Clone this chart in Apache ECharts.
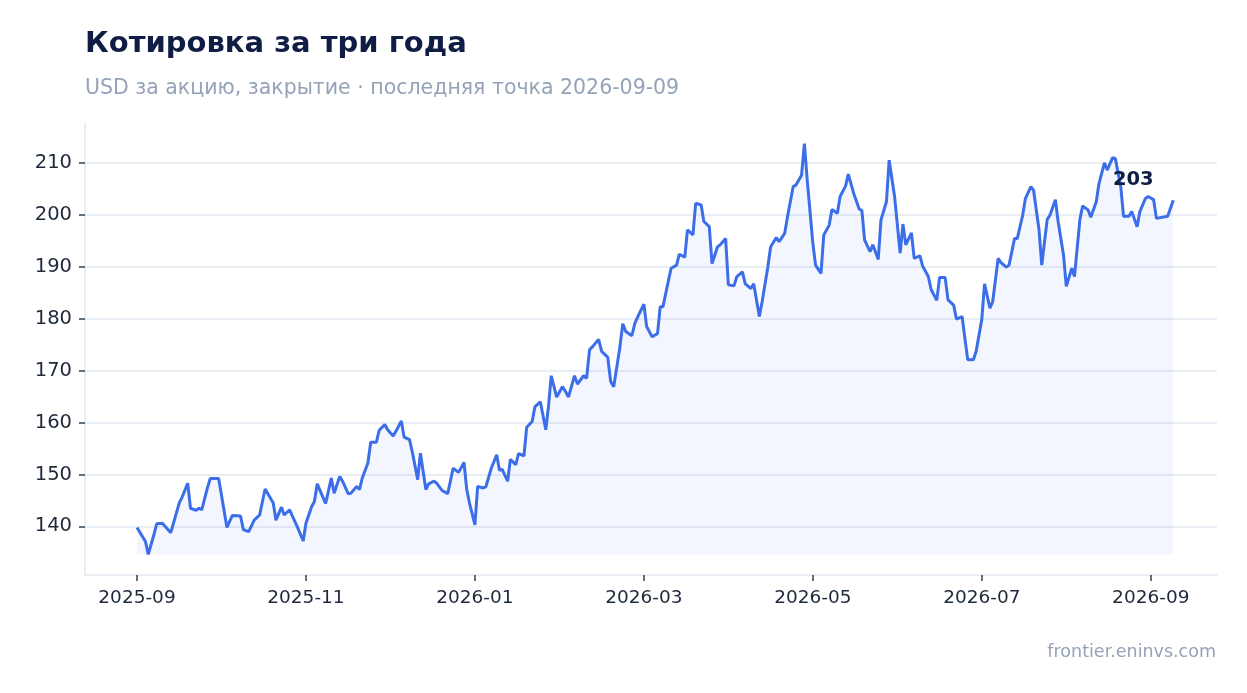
<!DOCTYPE html>
<html>
<head>
<meta charset="utf-8">
<script src="https://cdn.jsdelivr.net/npm/echarts@6/dist/echarts.min.js"></script>
<style>
  html, body { margin: 0; padding: 0; background: #ffffff; }
  #chart { width: 1247px; height: 693px; }
</style>
</head>
<body>
<div id="chart"></div>
<script>
// даты и цены закрытия (USD)
var dates = [
  '2025-09-01','2025-09-04','2025-09-05','2025-09-07','2025-09-08','2025-09-10','2025-09-13','2025-09-16','2025-09-17','2025-09-19',
  '2025-09-20','2025-09-22','2025-09-23','2025-09-24','2025-09-26','2025-09-27','2025-09-30',
  '2025-10-03','2025-10-05','2025-10-08','2025-10-09','2025-10-11','2025-10-13','2025-10-15','2025-10-17','2025-10-20',
  '2025-10-21','2025-10-23','2025-10-24','2025-10-26','2025-10-29','2025-10-31',
  '2025-11-01','2025-11-03','2025-11-04','2025-11-05','2025-11-08','2025-11-10','2025-11-11','2025-11-13','2025-11-14',
  '2025-11-16','2025-11-17','2025-11-19','2025-11-20','2025-11-21','2025-11-23','2025-11-24','2025-11-26','2025-11-27',
  '2025-11-29','2025-11-30',
  '2025-12-02','2025-12-03','2025-12-05','2025-12-06','2025-12-08','2025-12-09','2025-12-11','2025-12-12','2025-12-14',
  '2025-12-15','2025-12-17','2025-12-18','2025-12-20','2025-12-22','2025-12-23','2025-12-24','2025-12-26','2025-12-28',
  '2025-12-29','2025-12-30',
  '2026-01-01','2026-01-02','2026-01-04','2026-01-05','2026-01-07','2026-01-09','2026-01-10','2026-01-11','2026-01-13',
  '2026-01-14','2026-01-16','2026-01-17','2026-01-19','2026-01-20','2026-01-22','2026-01-23','2026-01-25','2026-01-27',
  '2026-01-28','2026-01-29','2026-01-31',
  '2026-02-02','2026-02-03','2026-02-04','2026-02-06','2026-02-07','2026-02-09','2026-02-10','2026-02-11','2026-02-12',
  '2026-02-14','2026-02-15','2026-02-17','2026-02-18','2026-02-19','2026-02-21','2026-02-22','2026-02-23','2026-02-25',
  '2026-02-26','2026-02-27',
  '2026-03-01','2026-03-02','2026-03-04','2026-03-06','2026-03-07','2026-03-08','2026-03-10','2026-03-11','2026-03-13',
  '2026-03-14','2026-03-16','2026-03-17','2026-03-19','2026-03-20','2026-03-22','2026-03-23','2026-03-25','2026-03-26',
  '2026-03-28','2026-03-29','2026-03-31',
  '2026-04-01','2026-04-03','2026-04-04','2026-04-06','2026-04-07','2026-04-09','2026-04-10','2026-04-12','2026-04-13',
  '2026-04-15','2026-04-16','2026-04-18','2026-04-19','2026-04-21','2026-04-22','2026-04-24','2026-04-25','2026-04-27',
  '2026-04-28','2026-04-29',
  '2026-05-01','2026-05-02','2026-05-04','2026-05-05','2026-05-07','2026-05-08','2026-05-10','2026-05-11','2026-05-13',
  '2026-05-14','2026-05-16','2026-05-18','2026-05-19','2026-05-20','2026-05-22','2026-05-23','2026-05-25','2026-05-26',
  '2026-05-28','2026-05-29','2026-05-31',
  '2026-06-02','2026-06-03','2026-06-04','2026-06-06','2026-06-07','2026-06-09','2026-06-10','2026-06-12','2026-06-13',
  '2026-06-15','2026-06-16','2026-06-18','2026-06-19','2026-06-21','2026-06-22','2026-06-24','2026-06-25','2026-06-26',
  '2026-06-28','2026-06-29',
  '2026-07-01','2026-07-02','2026-07-04','2026-07-05','2026-07-07','2026-07-08','2026-07-10','2026-07-11','2026-07-13',
  '2026-07-14','2026-07-16','2026-07-17','2026-07-19','2026-07-20','2026-07-22','2026-07-23','2026-07-25','2026-07-26',
  '2026-07-28','2026-07-29','2026-07-31',
  '2026-08-01','2026-08-03','2026-08-04','2026-08-06','2026-08-07','2026-08-09','2026-08-10','2026-08-12','2026-08-13',
  '2026-08-15','2026-08-16','2026-08-18','2026-08-19','2026-08-21','2026-08-22','2026-08-24','2026-08-25','2026-08-27',
  '2026-08-28','2026-08-30','2026-08-31',
  '2026-09-02','2026-09-03','2026-09-07','2026-09-09'
];

var closes = [
  139.8,137.1,134.6,138.4,140.5,140.6,138.8,144.5,145.6,148.3,
  143.5,143.1,143.5,143.2,147.4,149.2,149.2,
  139.8,142.1,142.0,139.4,139.0,141.2,142.2,147.2,144.5,
  141.2,143.7,142.2,143.2,139.7,137.2,
  140.6,143.8,144.8,148.2,144.4,149.3,146.4,149.6,148.7,
  146.3,146.4,147.7,147.1,149.3,152.2,156.2,156.2,158.5,
  159.6,158.6,
  157.4,158.3,160.3,157.2,156.7,154.4,149.0,154.1,147.1,
  148.2,148.7,148.3,146.9,146.3,148.7,151.2,150.4,152.3,
  147.1,144.5,
  140.3,147.7,147.4,147.6,151.2,153.8,150.8,151.0,148.7,
  152.9,151.9,154.0,153.6,159.1,160.2,163.0,164.0,158.6,
  163.1,169.0,164.9,
  166.9,166.0,164.9,169.0,167.4,169.0,168.5,174.0,174.6,
  176.0,173.7,172.6,167.9,166.9,174.3,179.0,177.5,176.7,
  179.1,180.4,
  182.8,178.5,176.5,177.1,182.3,182.3,187.3,189.7,190.3,
  192.4,191.8,197.1,196.1,202.2,201.9,198.7,197.7,190.6,
  193.8,194.2,195.4,
  186.5,186.3,188.1,189.0,186.7,185.8,186.7,180.4,183.3,
  189.9,193.8,195.6,194.8,196.4,199.6,205.4,205.7,207.6,
  213.7,206.7,
  194.5,190.3,188.7,196.1,198.0,201.0,200.3,203.5,205.5,
  207.8,204.1,201.1,200.8,195.1,192.9,194.2,191.4,199.0,
  202.5,210.5,203.5,
  192.6,198.2,194.2,196.5,191.6,192.1,190.1,188.1,185.6,
  183.5,187.9,187.9,183.6,182.6,179.9,180.4,176.2,172.1,
  172.1,173.7,
  179.9,186.7,182.0,183.3,191.6,190.8,189.9,190.3,195.4,
  195.4,199.9,203.1,205.4,204.7,197.1,190.3,199.1,199.9,
  202.9,198.7,192.2,
  186.2,189.7,188.1,199.1,201.7,200.9,199.5,202.5,206.0,
  210.0,208.6,211.0,210.8,205.4,199.7,199.7,200.6,197.7,
  200.6,203.1,203.5,
  202.9,199.3,199.7,202.8
];

// подписи оси X (каждые два месяца) и оси Y
var xTickLabels = ['2025-09', '2025-11', '2026-01', '2026-03', '2026-05', '2026-07', '2026-09'];
var yTicks = [140, 150, 160, 170, 180, 190, 200, 210];

// позиция даты в "месяцах" от 2025-09
function monthPos(s) {
  var p = s.split('-');
  var y = +p[0], m = +p[1], d = +p[2];
  var dim = new Date(y, m, 0).getDate();
  return (y - 2025) * 12 + (m - 9) + (d - 1) / dim;
}
function labelMonth(v) {
  var idx = Math.round(v);
  var y = 2025 + Math.floor((idx + 8) / 12);
  var m = (idx + 8) % 12 + 1;
  return y + '-' + (m < 10 ? '0' + m : m);
}

var points = [];
for (var i = 0; i < dates.length; i++) {
  points.push([monthPos(dates[i]), closes[i]]);
}
var last = points.length - 1;
var lo = Math.min.apply(null, closes), hi = Math.max.apply(null, closes);
var yPad = (hi - lo) * 0.05;
var xTickVals = xTickLabels.map(function (t) { return monthPos(t + '-01'); });

var myChart = echarts.init(document.getElementById('chart'));
myChart.setOption({
  animation: false,
  backgroundColor: '#ffffff',
  title: [
    {
      text: 'Котировка за три года',
      left: 80, top: 25,
      textStyle: { fontFamily: 'DejaVu Sans', fontWeight: 'bold', fontSize: 29, color: '#0f1d45' }
    },
    {
      text: 'USD за акцию, закрытие · последняя точка 2026-09-09',
      left: 80, top: 73,
      textStyle: { fontFamily: 'DejaVu Sans', fontWeight: 'normal', fontSize: 20.5, color: '#94a3b8' }
    },
    {
      text: 'frontier.eninvs.com',
      right: 26, top: 638,
      textStyle: { fontFamily: 'DejaVu Sans', fontWeight: 'normal', fontSize: 17.5, color: '#94a3b8' }
    }
  ],
  grid: { left: 85, right: 30, top: 123, bottom: 118 },
  xAxis: {
    type: 'value',
    min: -0.6155,
    max: 12.784,
    splitLine: { show: false },
    axisLine: { show: true, onZero: false, lineStyle: { color: '#e2e8f0', width: 1.5 } },
    axisTick: { show: true, customValues: xTickVals, length: 6, lineStyle: { color: '#334155', width: 1.5 } },
    axisLabel: {
      customValues: xTickVals,
      formatter: labelMonth,
      margin: 14,
      color: '#1e293b',
      fontSize: 18.5,
      fontFamily: 'DejaVu Sans'
    }
  },
  yAxis: {
    type: 'value',
    min: lo - yPad,
    max: hi + yPad,
    axisLine: { show: true, onZero: false, lineStyle: { color: '#e2e8f0', width: 1.5 } },
    axisTick: { show: true, customValues: yTicks, length: 6, lineStyle: { color: '#334155', width: 1.5 } },
    splitLine: { show: true, lineStyle: { color: '#e2e8f0', width: 1.5 } },
    axisLabel: {
      customValues: yTicks,
      margin: 13,
      color: '#1e293b',
      fontSize: 19.5,
      fontFamily: 'DejaVu Sans'
    }
  },
  series: [
    {
      type: 'line',
      data: points,
      symbol: 'none',
      lineStyle: { color: '#3b6ee8', width: 3 },
      areaStyle: { color: 'rgba(59,110,232,0.09)', origin: lo },
      z: 3,
      markPoint: {
        symbol: 'circle',
        symbolSize: 0,
        data: [{ coord: points[last], value: Math.round(closes[last]) }],
        label: {
          show: true,
          position: 'inside',
          offset: [-40, -20],
          color: '#0f1d45',
          fontWeight: 'bold',
          fontSize: 19.5,
          fontFamily: 'DejaVu Sans'
        }
      }
    }
  ]
});
</script>
</body>
</html>
